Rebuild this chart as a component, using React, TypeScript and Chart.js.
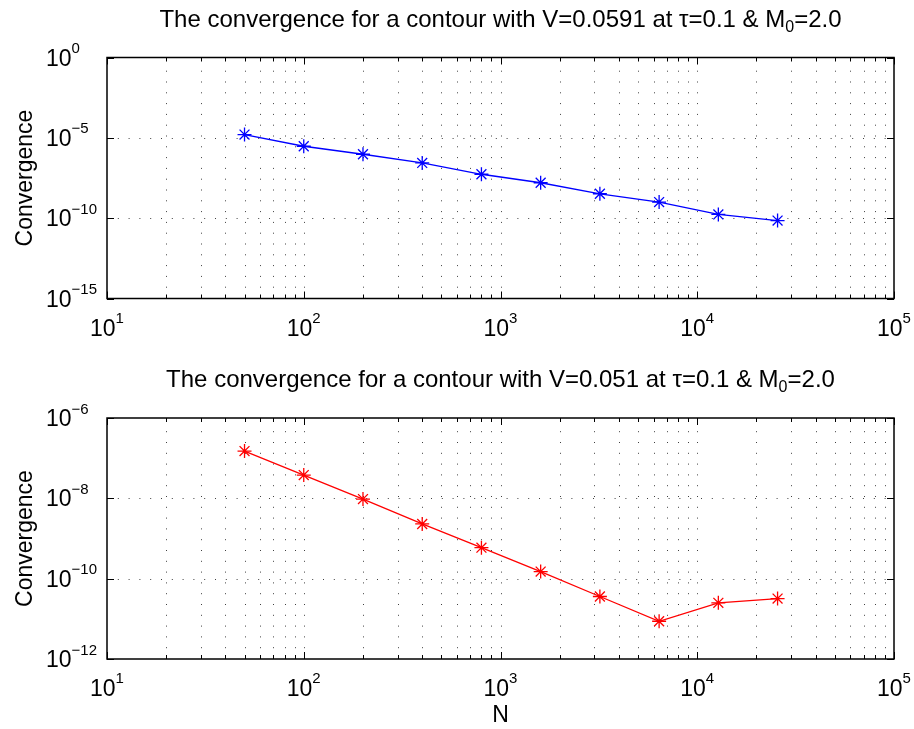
import React, { useEffect, useRef } from "react";
import { Chart, registerables } from "chart.js";

Chart.register(...registerables);

// ---- data ----
const N_VALUES = [50, 100, 200, 400, 800, 1600, 3200, 6400, 12800, 25600];
const CONV_TOP = [1.6e-5, 3.0e-6, 9.5e-7, 2.75e-7, 5.4e-8, 1.6e-8, 3.3e-9, 1.0e-9, 1.7e-10, 7.1e-11];
const CONV_BOTTOM = [1.5e-7, 3.8e-8, 9.6e-9, 2.3e-9, 5.9e-10, 1.5e-10, 3.6e-11, 8.7e-12, 2.5e-11, 3.2e-11];

const X_TICK_EXPONENTS = [1, 2, 3, 4, 5];
const Y_TICK_EXPONENTS_TOP = [0, -5, -10, -15];
const Y_TICK_EXPONENTS_BOTTOM = [-6, -8, -10, -12];

const TITLE_TOP = ["The convergence for a contour with V=0.0591 at \u03C4=0.1 & M", "0", "=2.0"];
const TITLE_BOTTOM = ["The convergence for a contour with V=0.051 at \u03C4=0.1 & M", "0", "=2.0"];
const Y_LABEL = "Convergence";
const X_LABEL = "N";

const FONT = "'Liberation Sans', Arial, Helvetica, sans-serif";

type PanelOpts = {
  yExps: number[];
  title: string[];
  showXLabel: boolean;
};

function supText(exp: number): string {
  return exp < 0 ? "\u2212" + String(-exp) : String(exp);
}

function makePlugin(o: PanelOpts) {
  return {
    id: "matlabAxes",
    beforeDatasetsDraw(chart: any) {
      const { ctx, chartArea: a, scales } = chart;
      const x = scales.x;
      const y = scales.y;
      ctx.save();
      ctx.strokeStyle = "rgba(0,0,0,0.75)";
      ctx.lineWidth = 1;
      ctx.setLineDash([1, 9.8]);
      const xmin = Math.pow(10, X_TICK_EXPONENTS[0]);
      const xmax = Math.pow(10, X_TICK_EXPONENTS[X_TICK_EXPONENTS.length - 1]);
      for (let e = X_TICK_EXPONENTS[0]; e < X_TICK_EXPONENTS[X_TICK_EXPONENTS.length - 1]; e++) {
        for (let m = 1; m <= 9; m++) {
          const v = m * Math.pow(10, e);
          if (v <= xmin || v >= xmax) continue;
          const px = Math.round(x.getPixelForValue(v)) + 0.5;
          ctx.beginPath();
          ctx.moveTo(px, a.bottom);
          ctx.lineTo(px, a.top);
          ctx.stroke();
        }
      }
      const ymin = Math.min(...o.yExps);
      const ymax = Math.max(...o.yExps);
      for (const e of o.yExps) {
        if (e === ymin || e === ymax) continue;
        const py = Math.round(y.getPixelForValue(Math.pow(10, e))) + 0.5;
        ctx.beginPath();
        ctx.moveTo(a.left, py);
        ctx.lineTo(a.right, py);
        ctx.stroke();
      }
      ctx.restore();
    },
    afterDatasetsDraw(chart: any) {
      const { ctx, chartArea: a, scales } = chart;
      const x = scales.x;
      const y = scales.y;
      ctx.save();
      ctx.setLineDash([]);
      ctx.strokeStyle = "#000";
      ctx.lineWidth = 1.5;
      ctx.strokeRect(a.left, a.top, a.right - a.left, a.bottom - a.top);

      // x ticks (major + minor), bottom & top, inward
      ctx.lineWidth = 1;
      for (let e = X_TICK_EXPONENTS[0]; e <= X_TICK_EXPONENTS[X_TICK_EXPONENTS.length - 1]; e++) {
        for (let m = 1; m <= 9; m++) {
          if (e === X_TICK_EXPONENTS[X_TICK_EXPONENTS.length - 1] && m > 1) break;
          const v = m * Math.pow(10, e);
          const px = Math.round(x.getPixelForValue(v)) + 0.5;
          const len = m === 1 ? 7 : 4;
          ctx.beginPath();
          ctx.moveTo(px, a.bottom);
          ctx.lineTo(px, a.bottom - len);
          ctx.moveTo(px, a.top);
          ctx.lineTo(px, a.top + len);
          ctx.stroke();
        }
      }
      // y ticks
      for (const e of o.yExps) {
        const py = Math.round(y.getPixelForValue(Math.pow(10, e))) + 0.5;
        ctx.beginPath();
        ctx.moveTo(a.left, py);
        ctx.lineTo(a.left + 7, py);
        ctx.moveTo(a.right, py);
        ctx.lineTo(a.right - 7, py);
        ctx.stroke();
      }

      // tick labels
      ctx.fillStyle = "#000";
      ctx.textAlign = "left";
      ctx.textBaseline = "alphabetic";
      const bigFont = "23px " + FONT;
      const smallFont = "15px " + FONT;
      for (const e of o.yExps) {
        const py = y.getPixelForValue(Math.pow(10, e));
        const lx = 46;
        ctx.font = bigFont;
        ctx.fillText("10", lx, py + 8);
        const w = ctx.measureText("10").width;
        ctx.font = smallFont;
        ctx.fillText(supText(e), lx + w, py - 4.5);
      }
      for (const e of X_TICK_EXPONENTS) {
        const px = x.getPixelForValue(Math.pow(10, e));
        ctx.font = bigFont;
        const w1 = ctx.measureText("10").width;
        ctx.font = smallFont;
        const s = supText(e);
        const w2 = ctx.measureText(s).width;
        const start = px - (w1 + w2) / 2;
        ctx.font = bigFont;
        ctx.fillText("10", start, a.bottom + 37);
        ctx.font = smallFont;
        ctx.fillText(s, start + w1, a.bottom + 24);
      }

      // title with subscript
      const tFont = "24px " + FONT;
      const subFont = "16px " + FONT;
      ctx.font = tFont;
      const w0 = ctx.measureText(o.title[0]).width;
      ctx.font = subFont;
      const ws = ctx.measureText(o.title[1]).width;
      ctx.font = tFont;
      const w2 = ctx.measureText(o.title[2]).width;
      const cx = (a.left + a.right) / 2;
      const tx = cx - (w0 + ws + w2) / 2;
      const ty = a.top - 31;
      ctx.fillText(o.title[0], tx, ty);
      ctx.font = subFont;
      ctx.fillText(o.title[1], tx + w0, ty + 5);
      ctx.font = tFont;
      ctx.fillText(o.title[2], tx + w0 + ws, ty);

      // y label
      ctx.save();
      ctx.translate(32, (a.top + a.bottom) / 2);
      ctx.rotate(-Math.PI / 2);
      ctx.textAlign = "center";
      ctx.font = "23px " + FONT;
      ctx.fillText(Y_LABEL, 0, 0);
      ctx.restore();

      if (o.showXLabel) {
        ctx.textAlign = "center";
        ctx.font = "23px " + FONT;
        ctx.fillText(X_LABEL, cx, a.bottom + 63);
      }
      ctx.restore();
    },
  };
}

function Panel(props: {
  top: number;
  height: number;
  padTop: number;
  padBottom: number;
  values: number[];
  color: string;
  yExps: number[];
  title: string[];
  showXLabel: boolean;
}) {
  const ref = useRef<HTMLCanvasElement | null>(null);
  useEffect(() => {
    const canvas = ref.current!;
    const yMin = Math.pow(10, Math.min(...props.yExps));
    const yMax = Math.pow(10, Math.max(...props.yExps));
    const chart = new Chart(canvas, {
      type: "line",
      data: {
        labels: N_VALUES,
        datasets: [
          {
            data: N_VALUES.map((n, i) => ({ x: n, y: props.values[i] })),
            borderColor: props.color,
            backgroundColor: props.color,
            borderWidth: 1.3,
            pointStyle: "star",
            pointRadius: 7,
            pointBorderWidth: 1.3,
            pointBorderColor: props.color,
            pointBackgroundColor: props.color,
            fill: false,
            tension: 0,
          },
        ],
      },
      options: {
        animation: false,
        responsive: false,
        devicePixelRatio: 1,
        layout: { padding: { left: 107, right: 20, top: props.padTop, bottom: props.padBottom } },
        plugins: { legend: { display: false }, tooltip: { enabled: false }, title: { display: false } },
        scales: {
          x: {
            type: "logarithmic",
            min: Math.pow(10, X_TICK_EXPONENTS[0]),
            max: Math.pow(10, X_TICK_EXPONENTS[X_TICK_EXPONENTS.length - 1]),
            display: false,
          },
          y: { type: "logarithmic", min: yMin, max: yMax, display: false },
        },
      },
      plugins: [makePlugin({ yExps: props.yExps, title: props.title, showXLabel: props.showXLabel })],
    } as any);
    return () => chart.destroy();
  }, []);
  return (
    <canvas
      ref={ref}
      width={914}
      height={props.height}
      style={{ position: "absolute", left: 0, top: props.top, width: 914, height: props.height }}
    />
  );
}

export default function App() {
  return (
    <div style={{ position: "fixed", left: 0, top: 0, width: 914, height: 729, background: "#fff" }}>
      <Panel
        top={0}
        height={364}
        padTop={57.5}
        padBottom={65.5}
        values={CONV_TOP}
        color="#0000ff"
        yExps={Y_TICK_EXPONENTS_TOP}
        title={TITLE_TOP}
        showXLabel={false}
      />
      <Panel
        top={364}
        height={365}
        padTop={54}
        padBottom={70}
        values={CONV_BOTTOM}
        color="#ff0000"
        yExps={Y_TICK_EXPONENTS_BOTTOM}
        title={TITLE_BOTTOM}
        showXLabel={true}
      />
    </div>
  );
}
